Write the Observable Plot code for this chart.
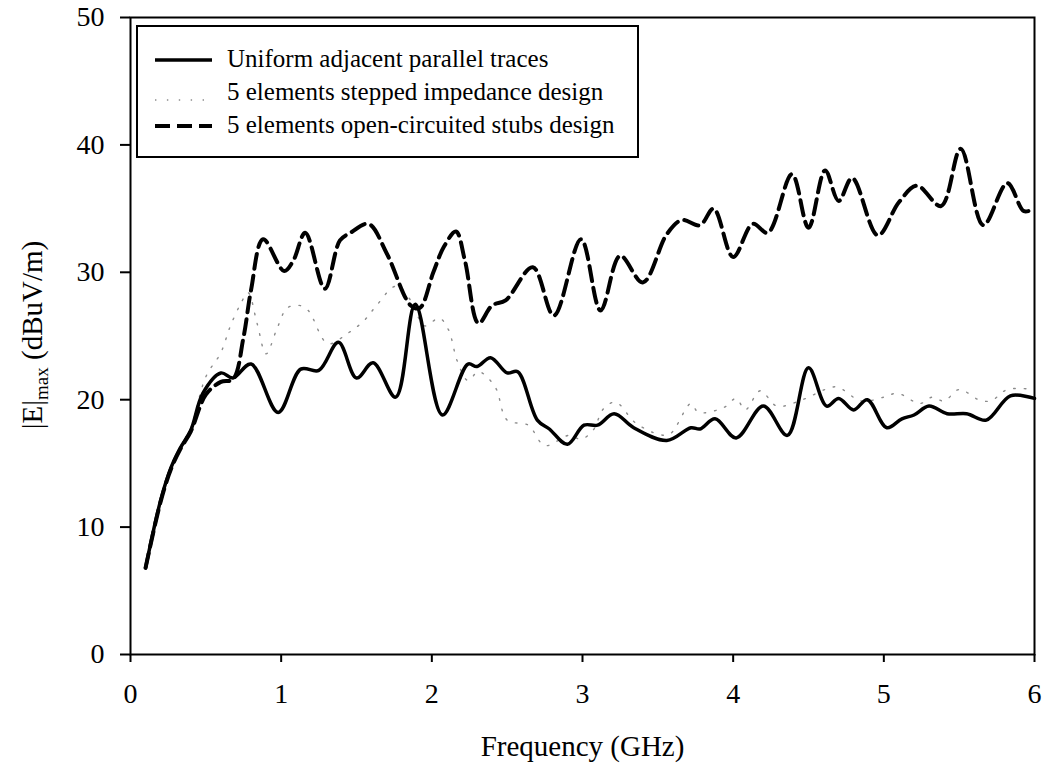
<!DOCTYPE html>
<html>
<head>
<meta charset="utf-8">
<script src="https://cdn.jsdelivr.net/npm/d3@7"></script>
<script src="https://cdn.jsdelivr.net/npm/@observablehq/plot@0.6"></script>
<style>
  html, body { margin: 0; padding: 0; background: #fff; }
  #chart { width: 1047px; height: 767px; }
  #chart svg { display: block; }
</style>
</head>
<body>
<div id="chart"></div>
<script>
// Maximum radiated field versus frequency for three trace layouts
const seriesNames = [
  "Uniform adjacent parallel traces",
  "5 elements stepped impedance design",
  "5 elements open-circuited stubs design"
];

// Uniform adjacent parallel traces (GHz, dBuV/m)
const uniformFreq = [0.1, 0.2, 0.27, 0.33, 0.4, 0.48, 0.6, 0.68, 0.8, 0.98, 1.13, 1.25, 1.38, 1.5, 1.61, 1.76, 1.89, 2.07, 2.24, 2.30, 2.39, 2.50, 2.57, 2.70, 2.78, 2.90, 3.01, 3.10, 3.21, 3.34, 3.56, 3.72, 3.78, 3.88, 4.02, 4.20, 4.36, 4.50, 4.62, 4.70, 4.80, 4.89, 5.02, 5.12, 5.20, 5.30, 5.42, 5.55, 5.68, 5.84, 6.0];
const uniformE = [6.8, 12.1, 14.7, 16.2, 17.6, 20.5, 22.1, 21.7, 22.8, 19.0, 22.4, 22.3, 24.5, 21.7, 22.9, 20.2, 27.5, 18.8, 22.8, 22.6, 23.3, 22.1, 22.2, 18.4, 17.7, 16.5, 18.0, 18.0, 18.9, 17.8, 16.8, 17.8, 17.7, 18.5, 17.0, 19.5, 17.2, 22.5, 19.5, 20.1, 19.2, 20.0, 17.8, 18.5, 18.8, 19.5, 18.9, 18.9, 18.4, 20.3, 20.1];

// 5 elements stepped impedance design
const steppedFreq = [0.1, 0.2, 0.27, 0.33, 0.4, 0.5, 0.6, 0.66, 0.73, 0.78, 0.84, 0.9, 0.97, 1.04, 1.12, 1.18, 1.31, 1.44, 1.55, 1.64, 1.76, 1.86, 1.95, 2.05, 2.11, 2.17, 2.24, 2.31, 2.42, 2.50, 2.64, 2.75, 2.91, 2.99, 3.07, 3.14, 3.22, 3.35, 3.50, 3.58, 3.72, 3.77, 3.94, 4.02, 4.08, 4.18, 4.29, 4.46, 4.61, 4.69, 4.85, 5.0, 5.09, 5.24, 5.32, 5.40, 5.50, 5.63, 5.71, 5.82, 6.0];
const steppedE = [6.8, 12.2, 14.7, 16.3, 17.8, 21.8, 23.7, 25.7, 27.5, 28.4, 26.0, 23.6, 25.5, 27.2, 27.4, 27.0, 24.4, 25.2, 26.2, 27.5, 28.9, 27.8, 25.8, 26.4, 25.5, 23.0, 21.5, 22.2, 21.0, 18.4, 18.0, 16.4, 17.2, 16.9, 17.6, 19.3, 19.8, 18.2, 17.3, 17.3, 19.7, 19.0, 19.4, 20.1, 19.2, 20.7, 19.5, 20.0, 20.8, 21.0, 19.9, 20.2, 20.5, 19.7, 20.2, 19.9, 20.8, 20.0, 19.9, 20.8, 20.8];

// 5 elements open-circuited stubs design
const stubsFreq = [0.1, 0.2, 0.27, 0.33, 0.4, 0.5, 0.6, 0.68, 0.75, 0.80, 0.88, 1.02, 1.08, 1.16, 1.29, 1.39, 1.46, 1.58, 1.70, 1.86, 1.92, 2.01, 2.08, 2.16, 2.22, 2.31, 2.40, 2.49, 2.67, 2.81, 2.99, 3.12, 3.25, 3.40, 3.56, 3.66, 3.78, 3.87, 4.00, 4.13, 4.23, 4.39, 4.50, 4.61, 4.70, 4.79, 4.96, 5.10, 5.22, 5.38, 5.51, 5.66, 5.82, 5.93, 6.0];
const stubsE = [6.8, 12.0, 14.6, 16.1, 17.5, 20.4, 21.4, 21.6, 24.9, 28.6, 32.6, 30.1, 30.9, 33.1, 28.7, 32.5, 33.1, 33.8, 31.5, 27.4, 27.2, 30.0, 32.0, 33.2, 30.9, 26.0, 27.4, 27.8, 30.4, 26.6, 32.6, 27.0, 31.3, 29.2, 33.0, 34.1, 33.7, 35.0, 31.2, 33.8, 33.1, 37.7, 33.5, 38.0, 35.6, 37.4, 32.9, 35.5, 36.8, 35.2, 39.7, 33.7, 37.0, 34.8, 35.0];

const xTicks = [0, 1, 2, 3, 4, 5, 6];
const yTicks = [0, 10, 20, 30, 40, 50];

const toRows = (fs, es) => fs.map((f, i) => ({f, e: es[i]}));
const uniform = toRows(uniformFreq, uniformE);
const stepped = toRows(steppedFreq, steppedE);
const stubs = toRows(stubsFreq, stubsE);

const serif = "'Liberation Serif', 'Times New Roman', Times, serif";

// Line styles shared by the curves and the legend samples
const styles = [
  {stroke: "#000", strokeWidth: 3.5, strokeDasharray: null},
  {stroke: "#8c8c8c", strokeWidth: 1.4, strokeDasharray: "1.6,9"},
  {stroke: "#000", strokeWidth: 4, strokeDasharray: "15,7"}
];

const lineOpts = (s) => ({
  x: "f", y: "e", curve: "catmull-rom",
  stroke: s.stroke, strokeWidth: s.strokeWidth,
  strokeDasharray: s.strokeDasharray ?? undefined,
  strokeLinejoin: "round"
});

const chart = Plot.plot({
  width: 1047,
  height: 767,
  marginLeft: 130,
  marginRight: 13,
  marginTop: 17,
  marginBottom: 113,
  style: {fontFamily: serif, fontSize: "28px", color: "#000", background: "#fff", overflow: "visible"},
  x: {domain: [0, 6]},
  y: {domain: [0, 50]},
  marks: [
    Plot.line(stepped, lineOpts(styles[1])),
    Plot.line(uniform, lineOpts(styles[0])),
    Plot.line(stubs, lineOpts(styles[2])),
    Plot.frame({stroke: "#000", strokeWidth: 2}),
    Plot.axisX({ticks: xTicks, tickSize: 8, tickPadding: 21, tickFormat: d => String(d), label: null, strokeWidth: 2, fontSize: 28}),
    Plot.axisY({ticks: yTicks, tickSize: 10, tickPadding: 16, tickFormat: d => String(d), label: null, strokeWidth: 2, fontSize: 28}),
    Plot.text(["Frequency (GHz)"], {frameAnchor: "bottom", lineAnchor: "top", dy: 81, fontSize: 29, fill: "#000"})
  ]
});

document.getElementById("chart").appendChild(chart);

const svg = d3.select(chart);

// Y axis title with subscript
const yTitle = svg.append("text")
  .attr("transform", "translate(42,335) rotate(-90)")
  .attr("text-anchor", "middle")
  .attr("font-family", serif)
  .attr("font-size", 29)
  .attr("fill", "#000");
yTitle.append("tspan").text("|E|");
yTitle.append("tspan").attr("font-size", 19).attr("dy", 6).text("max");
yTitle.append("tspan").attr("dy", -6).text(" (dBuV/m)");

// Legend box in the upper-left corner of the plot area
const legend = svg.append("g")
  .attr("font-family", serif)
  .attr("font-size", 25)
  .attr("text-anchor", "start");
legend.append("rect")
  .attr("x", 137).attr("y", 26).attr("width", 501).attr("height", 131)
  .attr("fill", "#fff").attr("stroke", "#000").attr("stroke-width", 2);

const rowBase = [67, 100, 133];
const sampleY = [60, 100, 126];
seriesNames.forEach((name, i) => {
  const s = styles[i];
  const ln = legend.append("line")
    .attr("x1", 155).attr("x2", 212)
    .attr("y1", sampleY[i]).attr("y2", sampleY[i])
    .attr("stroke", s.stroke)
    .attr("stroke-width", s.strokeWidth);
  if (i === 1) ln.attr("stroke-dasharray", "1.4,10.5");
  else if (s.strokeDasharray) ln.attr("stroke-dasharray", s.strokeDasharray);
  legend.append("text")
    .attr("x", 227).attr("y", rowBase[i])
    .attr("text-anchor", "start")
    .attr("fill", "#000")
    .text(name);
});
</script>
</body>
</html>
